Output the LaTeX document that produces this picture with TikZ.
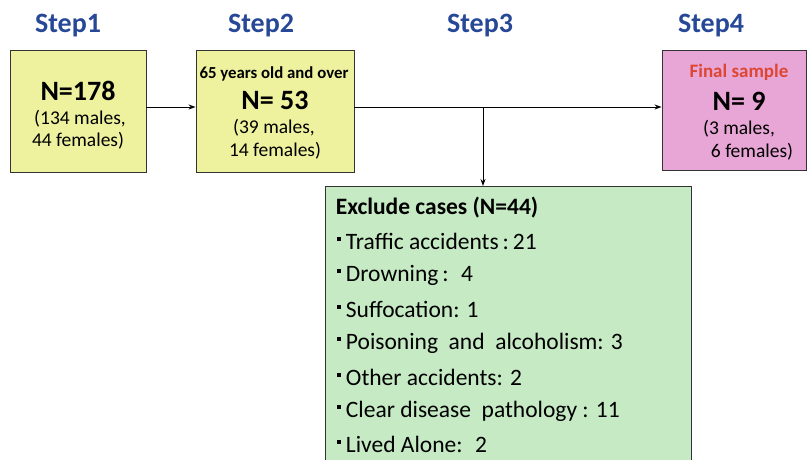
\documentclass[tikz,border=0pt]{standalone}
\usepackage{fontspec}
\setmainfont{Carlito}
\usetikzlibrary{arrows.meta}

\definecolor{stepblue}{RGB}{38,72,150}
\definecolor{boxyellow}{RGB}{238,242,158}
\definecolor{boxpink}{RGB}{232,166,214}
\definecolor{boxgreen}{RGB}{198,234,196}
\definecolor{finalred}{RGB}{220,70,50}

\newcommand{\bul}{\rule[0.36em]{0.17em}{0.17em}\hspace{0.22em}}

\tikzset{
    steplabel/.style={text=stepblue, font=\fontsize{28}{30}\selectfont\bfseries},
    stagebox/.style={draw=black!80, line width=0.9pt, inner sep=0pt},
    bignum/.style={font=\fontsize{28}{30}\selectfont\bfseries},
    smalltxt/.style={font=\fontsize{19.5}{22}\selectfont},
    listtxt/.style={font=\fontsize{23.5}{26}\selectfont, anchor=west},
}

\begin{document}
\begin{tikzpicture}[x=1pt, y=-1pt, >={Stealth[length=7pt, width=5pt]}, line width=0.9pt]
            \useasboundingbox (0, 0) rectangle (807, 459);
            \clip (0, 0) rectangle (807, 459);

            % step titles
            \node[steplabel] (s1) at (68, 26) {Step1};
            \node[steplabel] (s2) at (261, 26) {Step2};
            \node[steplabel] (s3) at (480, 26) {Step3};
            \node[steplabel] (s4) at (711, 26) {Step4};

            % boxes
            \node[stagebox, fill=boxyellow, minimum width=136, minimum height=122] (box1) at (78, 111) {};
            \node[stagebox, fill=boxyellow, minimum width=158, minimum height=122] (box2) at (275, 111) {};
            \node[stagebox, fill=boxpink, minimum width=144, minimum height=120] (box4) at (734, 110) {};
            \node[stagebox, fill=boxgreen, anchor=north west, minimum width=366, minimum height=300] (excl) at (325, 186) {};

            % step 1
            \node[bignum] (n1) at (78, 91) {N=178};
            \node[smalltxt] (m1) at (80, 119) {(134 males,};
            \node[smalltxt] (f1) at (78, 141) {44 females)};

            % step 2
            \node[font=\fontsize{16.8}{18}\selectfont\bfseries] (age) at (274, 74) {65 years old and over};
            \node[bignum] (n2) at (275, 100) {N= 53};
            \node[smalltxt] (m2) at (274, 128) {(39 males,};
            \node[smalltxt] (f2) at (275, 151) {14 females)};

            % step 4
            \node[text=finalred, font=\fontsize{19}{21}\selectfont\bfseries] (fin) at (739, 72) {Final sample};
            \node[bignum] (n4) at (739, 101) {N= 9};
            \node[smalltxt] (m4) at (739, 129) {(3 males,};
            \node[smalltxt] (f4) at (752, 152) {6 females)};

            % excluded cases
            \node[listtxt, font=\fontsize{23.5}{26}\selectfont\bfseries] (ex0) at (332, 208) {Exclude cases (N=44)};
            \node[listtxt] (ex1) at (333, 241) {\bul Traffic accidents\,:\,21};
            \node[listtxt] (ex2) at (333, 275) {\bul Drowning\,:~ 4};
            \node[listtxt] (ex3) at (333, 309) {\bul Suffocation: 1};
            \node[listtxt] (ex4) at (333, 343) {\bul Poisoning~ and~ alcoholism: 3};
            \node[listtxt] (ex5) at (333, 377) {\bul Other accidents: 2};
            \node[listtxt] (ex6) at (333, 411) {\bul Clear disease~ pathology : 11};
            \node[listtxt] (ex7) at (333, 444) {\bul Lived Alone:~ 2};

            % connectors
            \coordinate (split) at (483, 107);
            \draw[->] (box1.east |- split) -- (box2.west |- split);
            \draw[->] (box2.east |- split) -- (box4.west |- split);
            \draw[->] (split) -- (excl.north -| split);
        \end{tikzpicture}
\end{document}
